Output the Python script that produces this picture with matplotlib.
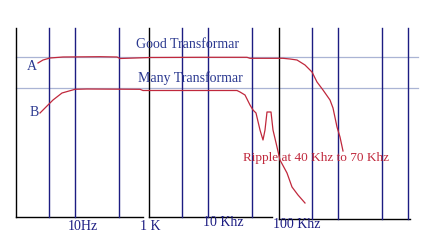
import matplotlib
matplotlib.use("Agg")
import matplotlib.pyplot as plt

# schematic frequency-response sketch, positions in drawing units (x right, y down)
decade_x = [16, 149, 279]
minor_x = [49, 75, 119, 182, 208, 252, 312, 338, 382, 408]
grid_top = 28
base_segments = [(16, 143, 217), (149, 272, 217), (279, 410, 219)]
level_y = [57, 88]
level_span = (16, 418)

curve_a_x = [38, 43, 50, 63, 100, 117, 120, 150, 200, 247, 250, 283, 290, 297, 305,
             312, 317, 323, 330, 333, 337, 340, 343]
curve_a_y = [63, 60, 58, 57, 56.7, 57, 58.5, 57.5, 57.3, 57.3, 58.3, 58.3, 59, 60, 65,
             72, 82, 90, 100, 108, 127, 137, 151]

curve_b_x = [40, 53, 62, 75, 87, 140, 143, 237, 240, 245, 250, 253, 256, 260, 263,
             265, 267, 271, 273, 277, 280, 287, 292, 298, 305]
curve_b_y = [113, 100, 93, 89.3, 89, 89.3, 90.5, 90.5, 92, 95, 105, 110, 113, 130, 140,
             130, 112, 112, 130, 147, 160, 173, 187, 195, 203]

tick_labels = ["10Hz", "1 K", "10 Khz", "100 Khz"]
tick_label_pos = [(83, 227), (150, 226), (223, 223), (297, 224)]

navy = "#1c1c82"
text_blue = "#2b3990"
red = "#c0283c"
grey = "#aab4d4"

plt.rcParams['font.family'] = ['Liberation Serif', 'DejaVu Serif']

fig = plt.figure(figsize=(4.37, 2.5), dpi=100)
ax = fig.add_axes([0, 0, 1, 1])
ax.set_xlim(0, 437)
ax.set_ylim(250, 0)
ax.axis('off')

for y in level_y:
    ax.plot(level_span, [y, y], color=grey, lw=0.9)

for x0, x1, y in base_segments:
    ax.plot([x0, x1], [y, y], color='black', lw=1.0)
    for x in decade_x + minor_x:
        if x0 <= x <= x1 + 1:
            ax.plot([x, x], [grid_top, y], color='black' if x in decade_x else navy, lw=1.0)

ax.plot(curve_a_x, curve_a_y, color=red, lw=0.9)
ax.plot(curve_b_x, curve_b_y, color=red, lw=0.9)

ax.text(187, 45, "Good Transformar", color=text_blue, fontsize=10, ha='center', va='center')
ax.text(190, 78, "Many Transformar", color=text_blue, fontsize=10, ha='center', va='center')
ax.text(32, 66, "A", color=text_blue, fontsize=10, ha='center', va='center')
ax.text(34, 113, "B", color=text_blue, fontsize=10, ha='center', va='center')
ax.text(316, 158, "Ripple at 40 Khz to 70 Khz", color=red, fontsize=9.5, ha='center', va='center')

for label, (x, y) in zip(tick_labels, tick_label_pos):
    ax.text(x, y, label, color=navy, fontsize=10, ha='center', va='center')

fig.savefig("out.png", dpi=100)
